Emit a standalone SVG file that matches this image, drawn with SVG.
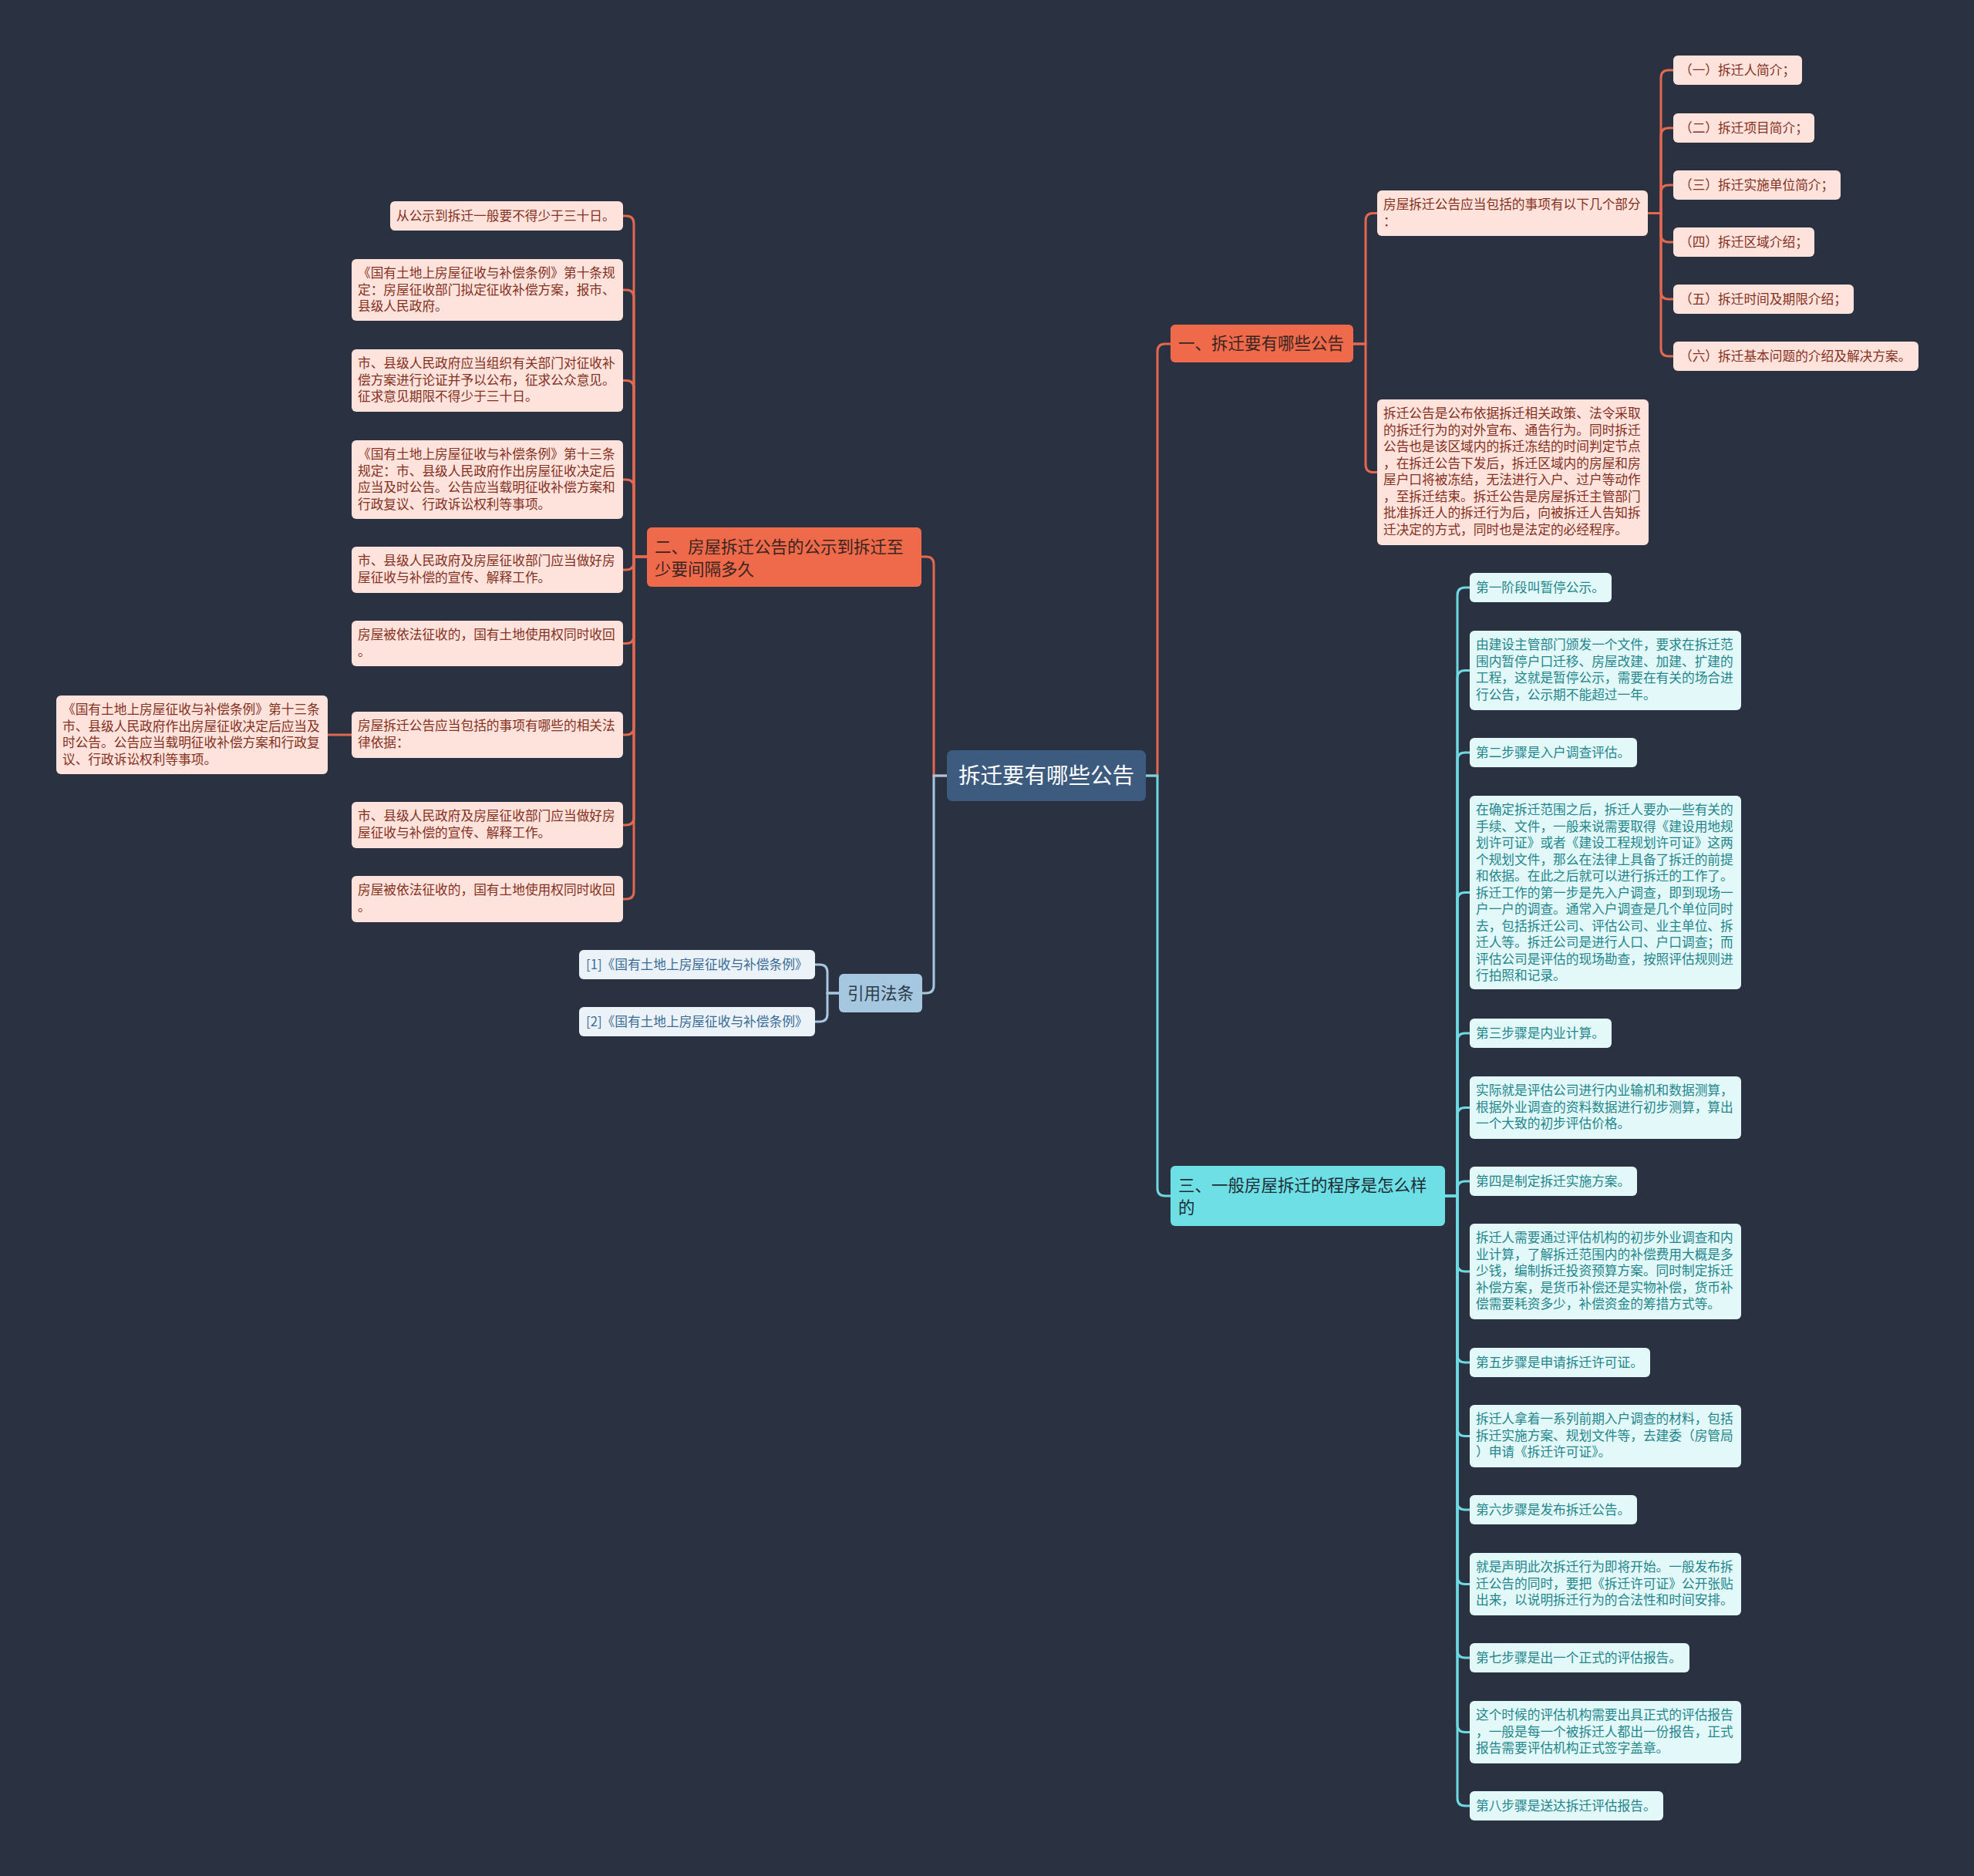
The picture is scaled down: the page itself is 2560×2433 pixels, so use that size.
<svg xmlns="http://www.w3.org/2000/svg" width="2560" height="2433" viewBox="0 0 2560 2433">
<style>
text{font-family:"Noto Sans CJK SC","Noto Sans",sans-serif;dominant-baseline:central;transform:translateY(-1.5px)}
.lf{font-size:16.7px}
.r1{fill:#fde3db}.t1{fill:#86301f}
.r3{fill:#e2f8f9}.t3{fill:#23868c}
.rq{fill:#ebf3f8}.tq{fill:#3a6b96}
.bt{font-size:21.5px}
.c1{fill:none;stroke:#e2694f;stroke-width:3}
.c3{fill:none;stroke:#6dd9e2;stroke-width:3}
.cq{fill:none;stroke:#a5c7df;stroke-width:3}
</style>
<rect width="2560" height="2433" fill="#2a3242"/>
<g id="connectors">
<path class="c1" d="M1228 1006 H1211 V732 Q1211 722 1201 722 H1195"/>
<path class="cq" d="M1228 1006 H1211 V1278 Q1211 1288 1201 1288 H1196"/>
<path class="c1" d="M1486 1006 H1501 V456 Q1501 446 1511 446 H1518"/>
<path class="c3" d="M1486 1006 H1501 V1541 Q1501 1551 1511 1551 H1518"/>
<path class="c1" d="M839 722 H822 V290 Q822 280 812 280 H808"/>
<path class="c1" d="M839 722 H822 V386 Q822 376 812 376 H808"/>
<path class="c1" d="M839 722 H822 V503.5 Q822 493.5 812 493.5 H808"/>
<path class="c1" d="M839 722 H822 V632 Q822 622 812 622 H808"/>
<path class="c1" d="M839 722 H822 V729 Q822 739 812 739 H808"/>
<path class="c1" d="M839 722 H822 V824.5 Q822 834.5 812 834.5 H808"/>
<path class="c1" d="M839 722 H822 V943 Q822 953 812 953 H808"/>
<path class="c1" d="M839 722 H822 V1060 Q822 1070 812 1070 H808"/>
<path class="c1" d="M839 722 H822 V1156 Q822 1166 812 1166 H808"/>
<path class="c1" d="M456 953 H425"/>
<path class="cq" d="M1088 1288 H1073 V1261 Q1073 1251 1063 1251 H1057"/>
<path class="cq" d="M1088 1288 H1073 V1315 Q1073 1325 1063 1325 H1057"/>
<path class="c1" d="M1755 446 H1771 V286.5 Q1771 276.5 1781 276.5 H1786"/>
<path class="c1" d="M1755 446 H1771 V602.5 Q1771 612.5 1781 612.5 H1786"/>
<path class="c1" d="M2137 276.5 H2154 V101 Q2154 91 2164 91 H2170"/>
<path class="c1" d="M2137 276.5 H2154 V176 Q2154 166 2164 166 H2170"/>
<path class="c1" d="M2137 276.5 H2154 V250 Q2154 240 2164 240 H2170"/>
<path class="c1" d="M2137 276.5 H2154 V304 Q2154 314 2164 314 H2170"/>
<path class="c1" d="M2137 276.5 H2154 V378 Q2154 388 2164 388 H2170"/>
<path class="c1" d="M2137 276.5 H2154 V452 Q2154 462 2164 462 H2170"/>
<path class="c3" d="M1874 1551 H1890 V772 Q1890 762 1900 762 H1906"/>
<path class="c3" d="M1874 1551 H1890 V879.5 Q1890 869.5 1900 869.5 H1906"/>
<path class="c3" d="M1874 1551 H1890 V986 Q1890 976 1900 976 H1906"/>
<path class="c3" d="M1874 1551 H1890 V1167.5 Q1890 1157.5 1900 1157.5 H1906"/>
<path class="c3" d="M1874 1551 H1890 V1350 Q1890 1340 1900 1340 H1906"/>
<path class="c3" d="M1874 1551 H1890 V1446.5 Q1890 1436.5 1900 1436.5 H1906"/>
<path class="c3" d="M1874 1551 H1890 V1542 Q1890 1532 1900 1532 H1906"/>
<path class="c3" d="M1874 1551 H1890 V1639 Q1890 1649 1900 1649 H1906"/>
<path class="c3" d="M1874 1551 H1890 V1757 Q1890 1767 1900 1767 H1906"/>
<path class="c3" d="M1874 1551 H1890 V1852.5 Q1890 1862.5 1900 1862.5 H1906"/>
<path class="c3" d="M1874 1551 H1890 V1948 Q1890 1958 1900 1958 H1906"/>
<path class="c3" d="M1874 1551 H1890 V2044.5 Q1890 2054.5 1900 2054.5 H1906"/>
<path class="c3" d="M1874 1551 H1890 V2140 Q1890 2150 1900 2150 H1906"/>
<path class="c3" d="M1874 1551 H1890 V2236.5 Q1890 2246.5 1900 2246.5 H1906"/>
<path class="c3" d="M1874 1551 H1890 V2332 Q1890 2342 1900 2342 H1906"/>
</g>
<g id="root"><rect x="1228" y="973" width="258" height="66" rx="7" fill="#3d5a7f"/><text x="1357" y="1005" font-size="28.5" fill="#ffffff" text-anchor="middle">拆迁要有哪些公告</text></g>
<g id="b2"><rect x="839" y="684" width="356" height="77" rx="6" fill="#ee6a4b"/><text class="bt" x="849" y="708" fill="#3a2420"><tspan>二、房屋拆迁公告的公示到拆迁至</tspan><tspan x="849" dy="29">少要间隔多久</tspan></text></g>
<g id="b1"><rect x="1518" y="421" width="237" height="49" rx="6" fill="#ee6a4b"/><text class="bt" x="1528" y="445" fill="#3a2420">一、拆迁要有哪些公告</text></g>
<g id="b3"><rect x="1518" y="1512" width="356" height="78" rx="6" fill="#6ddfe5"/><text class="bt" x="1528" y="1536" fill="#1e2d35"><tspan>三、一般房屋拆迁的程序是怎么样</tspan><tspan x="1528" dy="29">的</tspan></text></g>
<g id="bq"><rect x="1088" y="1263" width="108" height="50" rx="6" fill="#a5c7df"/><text class="bt" x="1142" y="1288" fill="#2c3b4a" text-anchor="middle">引用法条</text></g>
<g id="L1"><rect class="r1" x="506" y="261" width="302" height="38" rx="6"/><text class="lf t1" x="514" y="280">从公示到拆迁一般要不得少于三十日。</text></g>
<g id="L2"><rect class="r1" x="456" y="336" width="352" height="80" rx="6"/><text class="lf t1" x="464" y="354.75"><tspan>《国有土地上房屋征收与补偿条例》第十条规</tspan><tspan x="464" dy="21.5">定：房屋征收部门拟定征收补偿方案，报市、</tspan><tspan x="464" dy="21.5">县级人民政府。</tspan></text></g>
<g id="L3"><rect class="r1" x="456" y="453" width="352" height="81" rx="6"/><text class="lf t1" x="464" y="471.75"><tspan>市、县级人民政府应当组织有关部门对征收补</tspan><tspan x="464" dy="21.5">偿方案进行论证并予以公布，征求公众意见。</tspan><tspan x="464" dy="21.5">征求意见期限不得少于三十日。</tspan></text></g>
<g id="L4"><rect class="r1" x="456" y="571" width="352" height="102" rx="6"/><text class="lf t1" x="464" y="589.75"><tspan>《国有土地上房屋征收与补偿条例》第十三条</tspan><tspan x="464" dy="21.5">规定：市、县级人民政府作出房屋征收决定后</tspan><tspan x="464" dy="21.5">应当及时公告。公告应当载明征收补偿方案和</tspan><tspan x="464" dy="21.5">行政复议、行政诉讼权利等事项。</tspan></text></g>
<g id="L5"><rect class="r1" x="456" y="709" width="352" height="60" rx="6"/><text class="lf t1" x="464" y="727.75"><tspan>市、县级人民政府及房屋征收部门应当做好房</tspan><tspan x="464" dy="21.5">屋征收与补偿的宣传、解释工作。</tspan></text></g>
<g id="L6"><rect class="r1" x="456" y="805" width="352" height="59" rx="6"/><text class="lf t1" x="464" y="823.75"><tspan>房屋被依法征收的，国有土地使用权同时收回</tspan><tspan x="464" dy="21.5">。</tspan></text></g>
<g id="L7"><rect class="r1" x="456" y="923" width="352" height="60" rx="6"/><text class="lf t1" x="464" y="941.75"><tspan>房屋拆迁公告应当包括的事项有哪些的相关法</tspan><tspan x="464" dy="21.5">律依据：</tspan></text></g>
<g id="L8"><rect class="r1" x="456" y="1040" width="352" height="60" rx="6"/><text class="lf t1" x="464" y="1058.75"><tspan>市、县级人民政府及房屋征收部门应当做好房</tspan><tspan x="464" dy="21.5">屋征收与补偿的宣传、解释工作。</tspan></text></g>
<g id="L9"><rect class="r1" x="456" y="1136" width="352" height="60" rx="6"/><text class="lf t1" x="464" y="1154.75"><tspan>房屋被依法征收的，国有土地使用权同时收回</tspan><tspan x="464" dy="21.5">。</tspan></text></g>
<g id="FL"><rect class="r1" x="73" y="902" width="352" height="102" rx="6"/><text class="lf t1" x="81" y="920.75"><tspan>《国有土地上房屋征收与补偿条例》第十三条</tspan><tspan x="81" dy="21.5">市、县级人民政府作出房屋征收决定后应当及</tspan><tspan x="81" dy="21.5">时公告。公告应当载明征收补偿方案和行政复</tspan><tspan x="81" dy="21.5">议、行政诉讼权利等事项。</tspan></text></g>
<g id="Q1"><rect class="rq" x="751" y="1232" width="306" height="38" rx="6"/><text class="lf tq" x="760" y="1251">[1]《国有土地上房屋征收与补偿条例》</text></g>
<g id="Q2"><rect class="rq" x="751" y="1306" width="306" height="38" rx="6"/><text class="lf tq" x="760" y="1325">[2]《国有土地上房屋征收与补偿条例》</text></g>
<g id="R1"><rect class="r1" x="1786" y="247" width="351" height="59" rx="6"/><text class="lf t1" x="1794" y="265.75"><tspan>房屋拆迁公告应当包括的事项有以下几个部分</tspan><tspan x="1794" dy="21.5">：</tspan></text></g>
<g id="I1"><rect class="r1" x="2170" y="72" width="167" height="38" rx="6"/><text class="lf t1" x="2178" y="91">（一）拆迁人简介；</text></g>
<g id="I2"><rect class="r1" x="2170" y="147" width="183" height="38" rx="6"/><text class="lf t1" x="2178" y="166">（二）拆迁项目简介；</text></g>
<g id="I3"><rect class="r1" x="2170" y="221" width="217" height="38" rx="6"/><text class="lf t1" x="2178" y="240">（三）拆迁实施单位简介；</text></g>
<g id="I4"><rect class="r1" x="2170" y="295" width="183" height="38" rx="6"/><text class="lf t1" x="2178" y="314">（四）拆迁区域介绍；</text></g>
<g id="I5"><rect class="r1" x="2170" y="369" width="234" height="38" rx="6"/><text class="lf t1" x="2178" y="388">（五）拆迁时间及期限介绍；</text></g>
<g id="I6"><rect class="r1" x="2170" y="443" width="318" height="38" rx="6"/><text class="lf t1" x="2178" y="462">（六）拆迁基本问题的介绍及解决方案。</text></g>
<g id="R2"><rect class="r1" x="1786" y="518" width="352" height="189" rx="6"/><text class="lf t1" x="1794" y="536.75"><tspan>拆迁公告是公布依据拆迁相关政策、法令采取</tspan><tspan x="1794" dy="21.5">的拆迁行为的对外宣布、通告行为。同时拆迁</tspan><tspan x="1794" dy="21.5">公告也是该区域内的拆迁冻结的时间判定节点</tspan><tspan x="1794" dy="21.5">，在拆迁公告下发后，拆迁区域内的房屋和房</tspan><tspan x="1794" dy="21.5">屋户口将被冻结，无法进行入户、过户等动作</tspan><tspan x="1794" dy="21.5">，至拆迁结束。拆迁公告是房屋拆迁主管部门</tspan><tspan x="1794" dy="21.5">批准拆迁人的拆迁行为后，向被拆迁人告知拆</tspan><tspan x="1794" dy="21.5">迁决定的方式，同时也是法定的必经程序。</tspan></text></g>
<g id="C1"><rect class="r3" x="1906" y="743" width="184" height="38" rx="6"/><text class="lf t3" x="1914" y="762">第一阶段叫暂停公示。</text></g>
<g id="C2"><rect class="r3" x="1906" y="818" width="352" height="103" rx="6"/><text class="lf t3" x="1914" y="836.75"><tspan>由建设主管部门颁发一个文件，要求在拆迁范</tspan><tspan x="1914" dy="21.5">围内暂停户口迁移、房屋改建、加建、扩建的</tspan><tspan x="1914" dy="21.5">工程，这就是暂停公示，需要在有关的场合进</tspan><tspan x="1914" dy="21.5">行公告，公示期不能超过一年。</tspan></text></g>
<g id="C3"><rect class="r3" x="1906" y="957" width="217" height="38" rx="6"/><text class="lf t3" x="1914" y="976">第二步骤是入户调查评估。</text></g>
<g id="C4"><rect class="r3" x="1906" y="1032" width="352" height="251" rx="6"/><text class="lf t3" x="1914" y="1050.75"><tspan>在确定拆迁范围之后，拆迁人要办一些有关的</tspan><tspan x="1914" dy="21.5">手续、文件，一般来说需要取得《建设用地规</tspan><tspan x="1914" dy="21.5">划许可证》或者《建设工程规划许可证》这两</tspan><tspan x="1914" dy="21.5">个规划文件，那么在法律上具备了拆迁的前提</tspan><tspan x="1914" dy="21.5">和依据。在此之后就可以进行拆迁的工作了。</tspan><tspan x="1914" dy="21.5">拆迁工作的第一步是先入户调查，即到现场一</tspan><tspan x="1914" dy="21.5">户一户的调查。通常入户调查是几个单位同时</tspan><tspan x="1914" dy="21.5">去，包括拆迁公司、评估公司、业主单位、拆</tspan><tspan x="1914" dy="21.5">迁人等。拆迁公司是进行人口、户口调查；而</tspan><tspan x="1914" dy="21.5">评估公司是评估的现场勘查，按照评估规则进</tspan><tspan x="1914" dy="21.5">行拍照和记录。</tspan></text></g>
<g id="C5"><rect class="r3" x="1906" y="1321" width="184" height="38" rx="6"/><text class="lf t3" x="1914" y="1340">第三步骤是内业计算。</text></g>
<g id="C6"><rect class="r3" x="1906" y="1396" width="352" height="81" rx="6"/><text class="lf t3" x="1914" y="1414.75"><tspan>实际就是评估公司进行内业输机和数据测算，</tspan><tspan x="1914" dy="21.5">根据外业调查的资料数据进行初步测算，算出</tspan><tspan x="1914" dy="21.5">一个大致的初步评估价格。</tspan></text></g>
<g id="C7"><rect class="r3" x="1906" y="1513" width="217" height="38" rx="6"/><text class="lf t3" x="1914" y="1532">第四是制定拆迁实施方案。</text></g>
<g id="C8"><rect class="r3" x="1906" y="1587" width="352" height="124" rx="6"/><text class="lf t3" x="1914" y="1605.75"><tspan>拆迁人需要通过评估机构的初步外业调查和内</tspan><tspan x="1914" dy="21.5">业计算，了解拆迁范围内的补偿费用大概是多</tspan><tspan x="1914" dy="21.5">少钱，编制拆迁投资预算方案。同时制定拆迁</tspan><tspan x="1914" dy="21.5">补偿方案，是货币补偿还是实物补偿，货币补</tspan><tspan x="1914" dy="21.5">偿需要耗资多少，补偿资金的筹措方式等。</tspan></text></g>
<g id="C9"><rect class="r3" x="1906" y="1748" width="234" height="38" rx="6"/><text class="lf t3" x="1914" y="1767">第五步骤是申请拆迁许可证。</text></g>
<g id="C10"><rect class="r3" x="1906" y="1822" width="352" height="81" rx="6"/><text class="lf t3" x="1914" y="1840.75"><tspan>拆迁人拿着一系列前期入户调查的材料，包括</tspan><tspan x="1914" dy="21.5">拆迁实施方案、规划文件等，去建委（房管局</tspan><tspan x="1914" dy="21.5">）申请《拆迁许可证》。</tspan></text></g>
<g id="C11"><rect class="r3" x="1906" y="1939" width="217" height="38" rx="6"/><text class="lf t3" x="1914" y="1958">第六步骤是发布拆迁公告。</text></g>
<g id="C12"><rect class="r3" x="1906" y="2014" width="352" height="81" rx="6"/><text class="lf t3" x="1914" y="2032.75"><tspan>就是声明此次拆迁行为即将开始。一般发布拆</tspan><tspan x="1914" dy="21.5">迁公告的同时，要把《拆迁许可证》公开张贴</tspan><tspan x="1914" dy="21.5">出来，以说明拆迁行为的合法性和时间安排。</tspan></text></g>
<g id="C13"><rect class="r3" x="1906" y="2131" width="285" height="38" rx="6"/><text class="lf t3" x="1914" y="2150">第七步骤是出一个正式的评估报告。</text></g>
<g id="C14"><rect class="r3" x="1906" y="2206" width="352" height="81" rx="6"/><text class="lf t3" x="1914" y="2224.75"><tspan>这个时候的评估机构需要出具正式的评估报告</tspan><tspan x="1914" dy="21.5">，一般是每一个被拆迁人都出一份报告，正式</tspan><tspan x="1914" dy="21.5">报告需要评估机构正式签字盖章。</tspan></text></g>
<g id="C15"><rect class="r3" x="1906" y="2323" width="251" height="38" rx="6"/><text class="lf t3" x="1914" y="2342">第八步骤是送达拆迁评估报告。</text></g>
</svg>
